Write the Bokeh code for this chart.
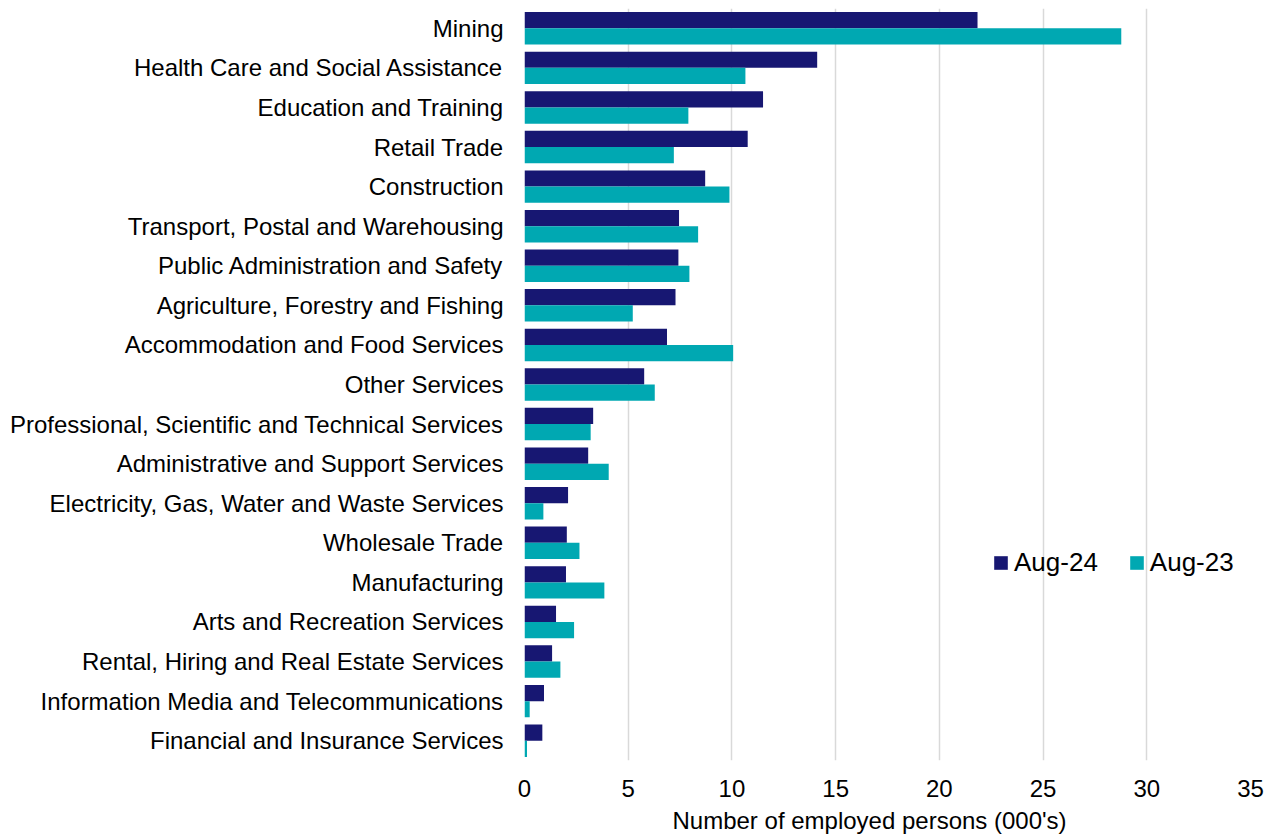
from bokeh.plotting import figure
from bokeh.models import ColumnDataSource, Range1d, FactorRange, FixedTicker, Legend, LegendItem, Title
from bokeh.transform import dodge
from bokeh.embed import file_html
from bokeh.resources import INLINE

categories = [
    "Mining",
    "Health Care and Social Assistance",
    "Education and Training",
    "Retail Trade",
    "Construction",
    "Transport, Postal and Warehousing",
    "Public Administration and Safety",
    "Agriculture, Forestry and Fishing",
    "Accommodation and Food Services",
    "Other Services",
    "Professional, Scientific and Technical Services",
    "Administrative and Support Services",
    "Electricity, Gas, Water and Waste Services",
    "Wholesale Trade",
    "Manufacturing",
    "Arts and Recreation Services",
    "Rental, Hiring and Real Estate Services",
    "Information Media and Telecommunications",
    "Financial and Insurance Services",
]
aug24 = [21.84, 14.11, 11.50, 10.76, 8.71, 7.45, 7.42, 7.28, 6.87, 5.77,
         3.31, 3.07, 2.10, 2.04, 2.00, 1.52, 1.33, 0.94, 0.86]
aug23 = [28.77, 10.65, 7.90, 7.20, 9.88, 8.37, 7.95, 5.22, 10.06, 6.28,
         3.19, 4.06, 0.91, 2.65, 3.85, 2.39, 1.73, 0.25, 0.12]
series_names = ["Aug-24", "Aug-23"]
x_ticks = [0, 5, 10, 15, 20, 25, 30, 35]
x_label = "Number of employed persons (000's)"

NAVY = "#171772"
TEAL = "#00A8B2"
FONT = "Liberation Sans"

source = ColumnDataSource(dict(cat=categories, aug24=aug24, aug23=aug23))

W, H = 1274, 839
TOP = 8
FRAME_H = 752
p = figure(
    width=W, height=H,
    y_range=FactorRange(factors=list(reversed(categories)), range_padding=0),
    x_range=Range1d(0, 35),
    output_backend="svg", toolbar_location=None,
)
p.min_border = 0
p.min_border_left = 524
p.min_border_right = 24
p.min_border_top = TOP
p.min_border_bottom = H - FRAME_H - TOP
p.outline_line_color = None

r1 = p.hbar(y=dodge("cat", 0.205, range=p.y_range), right="aug24", left=0, height=0.41,
            source=source, fill_color=NAVY, line_color=None)
r2 = p.hbar(y=dodge("cat", -0.205, range=p.y_range), right="aug23", left=0, height=0.41,
            source=source, fill_color=TEAL, line_color=None)

p.ygrid.grid_line_color = None
p.xgrid.grid_line_color = "#d9d9d9"
p.xgrid.grid_line_width = 1.5
p.xaxis.ticker = FixedTicker(ticks=x_ticks)

for ax in (p.xaxis[0], p.yaxis[0]):
    ax.axis_line_color = None
    ax.major_tick_line_color = None
    ax.minor_tick_line_color = None
    ax.major_tick_out = 0
    ax.major_tick_in = 0
    ax.major_label_text_font = FONT
    ax.major_label_text_font_size = "24px"
    ax.major_label_text_color = "#000000"

p.yaxis.major_label_standoff = 21
p.xaxis.major_label_standoff = 19

ttl = Title(text=x_label, align="left", offset=148, standoff=10,
            text_font=FONT, text_font_size="24px", text_font_style="normal",
            text_color="#000000")
p.add_layout(ttl, "below")

legend = Legend(
    items=[LegendItem(label=series_names[0], renderers=[r1]),
           LegendItem(label=series_names[1], renderers=[r2])],
    orientation="horizontal", location=(468, 182),
    glyph_width=17, glyph_height=17, label_standoff=5, spacing=30,
    padding=0, margin=0, border_line_color=None, background_fill_alpha=0,
    label_text_font=FONT, label_text_font_size="26px", label_text_color="#000000",
)
p.add_layout(legend)

open("out.html", "w").write(file_html(p, INLINE))
